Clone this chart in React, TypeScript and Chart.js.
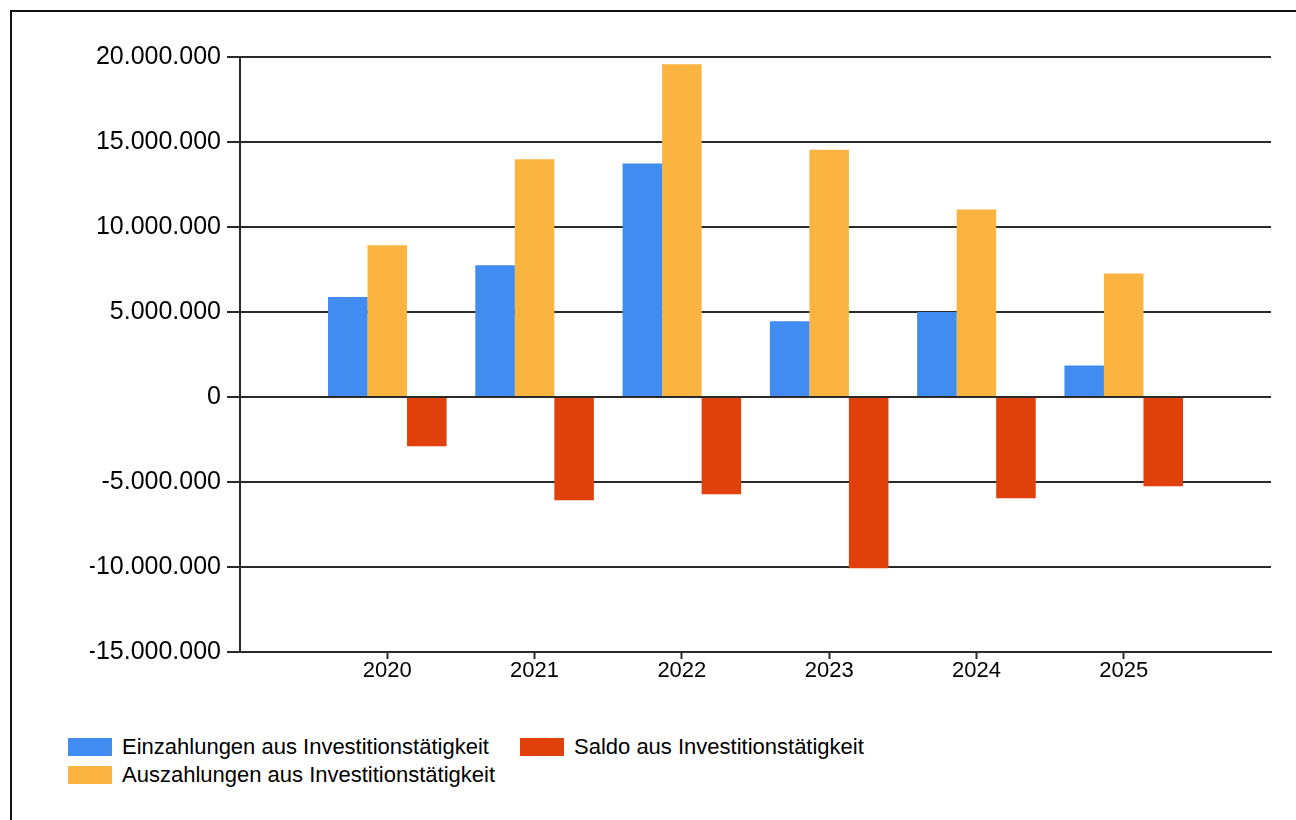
import React, { useEffect, useRef } from 'react';
import { Chart, registerables } from 'chart.js';

Chart.register(...registerables);

// ---- data ----
const categories = ['2020', '2021', '2022', '2023', '2024', '2025'];
const einzahlungen = [5880000, 7750000, 13730000, 4450000, 5000000, 1860000];
const auszahlungen = [8920000, 13980000, 19570000, 14550000, 11030000, 7260000];
const saldo = [-2900000, -6080000, -5720000, -10080000, -5960000, -5250000];

const seriesNames = [
  'Einzahlungen aus Investitionstätigkeit',
  'Auszahlungen aus Investitionstätigkeit',
  'Saldo aus Investitionstätigkeit',
];
const seriesColors = ['#418CF0', '#FCB441', '#E0400A'];

const yMin = -15000000;
const yMax = 20000000;
const yStep = 5000000;

const FONT = "'Liberation Sans', Arial, sans-serif";
const LINE = '#2a2a2a';

function fmt(v: number): string {
  const n = Math.round(Number(v));
  const s = Math.abs(n)
    .toString()
    .replace(/\B(?=(\d{3})+(?!\d))/g, '.');
  return (n < 0 ? '-' : '') + s;
}

export default function App() {
  const ref = useRef<HTMLCanvasElement | null>(null);

  useEffect(() => {
    if (!ref.current) return;
    const labels = ['', ...categories, ''];
    const pad = (arr: number[]) => [null, ...arr, null];
    const series = [einzahlungen, auszahlungen, saldo];
    const chart = new Chart(ref.current, {
      type: 'bar',
      data: {
        labels,
        datasets: series.map((arr, i) => ({
          label: seriesNames[i],
          data: pad(arr) as any,
          backgroundColor: seriesColors[i],
          borderWidth: 0,
          categoryPercentage: 0.805,
          barPercentage: 1,
        })),
      },
      options: {
        animation: false,
        responsive: false,
        maintainAspectRatio: false,
        layout: { padding: { left: 90, right: 25, top: 57, bottom: 8 } },
        plugins: {
          legend: { display: false },
          tooltip: { enabled: false },
        },
        scales: {
          x: {
            type: 'category',
            offset: false,
            grid: {
              offset: false,
              drawOnChartArea: false,
              drawTicks: true,
              tickLength: 7,
              tickWidth: 2,
              tickColor: (ctx: any) =>
                ctx.index === 0 || ctx.index === labels.length - 1 ? 'rgba(0,0,0,0)' : LINE,
            },
            border: { display: true, color: LINE, width: 2 },
            ticks: {
              padding: 1,
              autoSkip: false,
              maxRotation: 0,
              color: '#000',
              font: { family: FONT, size: 22, lineHeight: 1 },
            },
            afterFit: (s: any) => {
              s.height = 40;
            },
          },
          y: {
            min: yMin,
            max: yMax,
            ticks: {
              stepSize: yStep,
              padding: 6,
              color: '#000',
              font: { family: FONT, size: 25 },
              callback: (v: any) => fmt(v),
            },
            grid: {
              color: LINE,
              lineWidth: 2,
              drawTicks: true,
              tickLength: 13,
            },
            border: { display: true, color: LINE, width: 2 },
            afterFit: (s: any) => {
              s.width = 150;
            },
          },
        },
      } as any,
    });
    return () => chart.destroy();
  }, []);

  const legendItems = [
    { i: 0, left: 68, top: 738 },
    { i: 1, left: 68, top: 766 },
    { i: 2, left: 520, top: 738 },
  ];

  return (
    <div
      style={{
        position: 'fixed',
        left: 0,
        top: 0,
        width: 1296,
        height: 820,
        overflow: 'hidden',
        background: '#fff',
      }}
    >
      <div
        style={{
          position: 'absolute',
          left: 10,
          top: 10,
          width: 1400,
          height: 900,
          borderTop: '2px solid #111',
          borderLeft: '2px solid #111',
          boxSizing: 'border-box',
        }}
      />
      <canvas
        ref={ref}
        width={1296}
        height={700}
        style={{ position: 'absolute', left: 0, top: 0, width: 1296, height: 700, display: 'block' }}
      />
      {legendItems.map((it) => (
        <div
          key={it.i}
          style={{
            position: 'absolute',
            left: it.left,
            top: it.top,
            height: 18,
            display: 'flex',
            alignItems: 'center',
            whiteSpace: 'nowrap',
          }}
        >
          <div style={{ width: 44, height: 18, background: seriesColors[it.i], marginRight: 10 }} />
          <span style={{ fontFamily: FONT, fontSize: 22, lineHeight: '18px', color: '#000' }}>
            {seriesNames[it.i]}
          </span>
        </div>
      ))}
    </div>
  );
}
